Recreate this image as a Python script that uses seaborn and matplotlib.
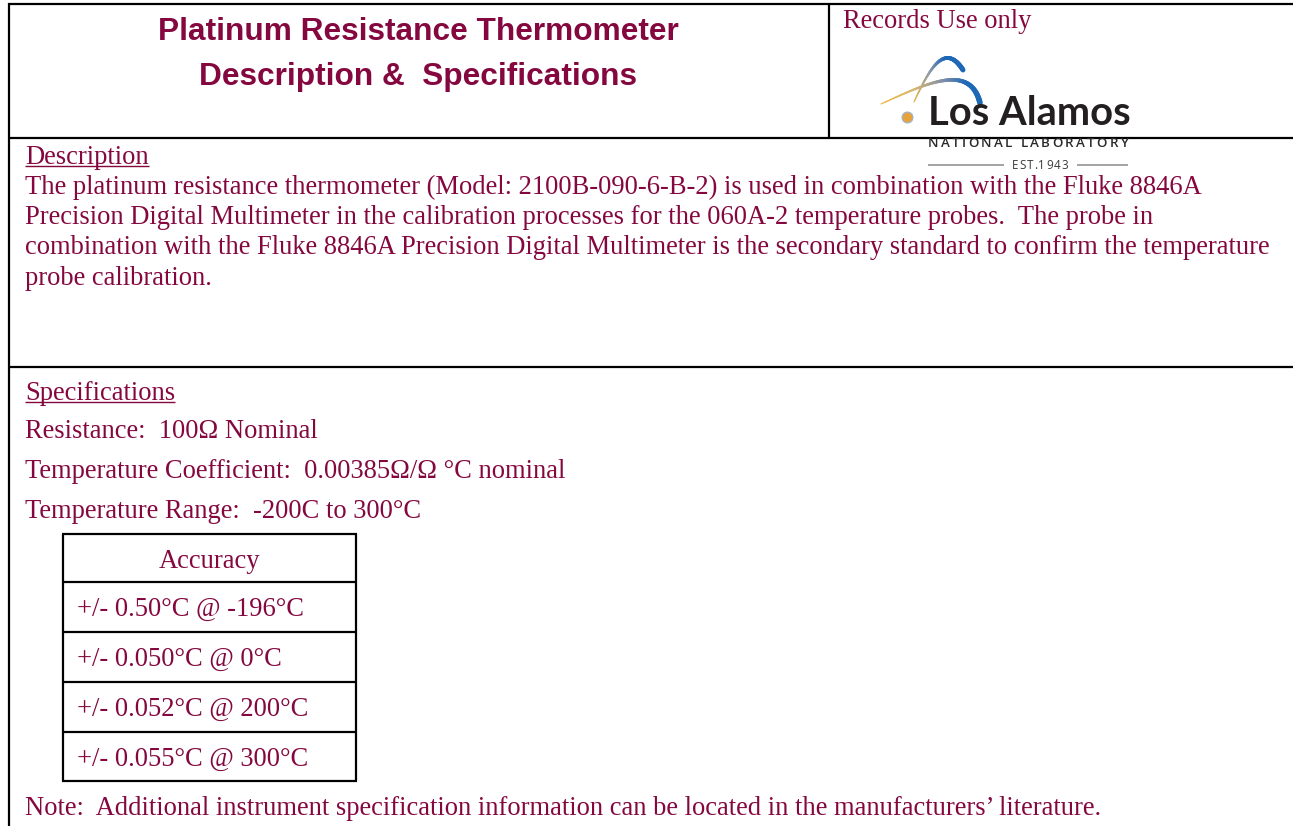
import numpy as np
import matplotlib
matplotlib.use("Agg")
import matplotlib.pyplot as plt
import seaborn as sns
from matplotlib.colors import to_rgb

sns.set_style("white")
plt.rcParams['font.family'] = ['Liberation Serif', 'DejaVu Serif']

# ---- content ----
title_lines = ["Platinum Resistance Thermometer", "Description &  Specifications"]
records_label = "Records Use only"
description_heading = "Description"
description_lines = [
    "The platinum resistance thermometer (Model: 2100B-090-6-B-2) is used in combination with the Fluke 8846A",
    "Precision Digital Multimeter in the calibration processes for the 060A-2 temperature probes.  The probe in",
    "combination with the Fluke 8846A Precision Digital Multimeter is the secondary standard to confirm the temperature",
    "probe calibration.",
]
spec_heading = "Specifications"
spec_lines = [
    "Resistance:  100\u03a9 Nominal",
    "Temperature Coefficient:  0.00385\u03a9/\u03a9 \u00b0C nominal",
    "Temperature Range:  -200C to 300\u00b0C",
]
accuracy_header = "Accuracy"
accuracy_rows = [
    "+/- 0.50\u00b0C @ -196\u00b0C",
    "+/- 0.050\u00b0C @ 0\u00b0C",
    "+/- 0.052\u00b0C @ 200\u00b0C",
    "+/- 0.055\u00b0C @ 300\u00b0C",
]
note_line = "Note:  Additional instrument specification information can be located in the manufacturers\u2019 literature."
logo_name = "Los Alamos"
logo_sub = "NATIONAL LABORATORY"
logo_est = "EST.1943"

# ---- style ----
MAROON = "#84083F"
BODY_FS = 19.1
W, H = 1293, 826

fig = plt.figure(figsize=(W / 100, H / 100), dpi=100)
ax = fig.add_axes([0, 0, 1, 1])
ax.set_xlim(0, W)
ax.set_ylim(H, 0)
ax.axis("off")

LW = 1.6
def hline(y, x0, x1, lw=LW, color="black", z=2):
    ax.plot([x0, x1], [y, y], color=color, lw=lw, solid_capstyle="butt", zorder=z)
def vline(x, y0, y1, lw=LW, color="black", z=2):
    ax.plot([x, x], [y0, y1], color=color, lw=lw, solid_capstyle="butt", zorder=z)

# frame
LX = 9
hline(4, LX - 1, W)
hline(138, LX - 1, W)
hline(367, LX - 1, W)
vline(LX, 3, H)
vline(829, 3, 138)

# title
for i, t in enumerate(title_lines):
    ax.text(418, 40 + i * 45, t, fontsize=22.8, fontweight="bold",
            family=["Liberation Sans", "DejaVu Sans"], color=MAROON,
            ha="center", va="baseline")

ax.text(843, 28, records_label, fontsize=BODY_FS, color=MAROON, ha="left", va="baseline")

# description
heads = []
heads.append(ax.text(25, 164, description_heading, fontsize=BODY_FS, color=MAROON, va="baseline"))
for i, t in enumerate(description_lines):
    ax.text(25, 194 + i * 30.2, t, fontsize=BODY_FS, color=MAROON, va="baseline")

# specifications
heads.append(ax.text(25, 400, spec_heading, fontsize=BODY_FS, color=MAROON, va="baseline"))
for i, t in enumerate(spec_lines):
    ax.text(25, 438 + i * 40, t, fontsize=BODY_FS, color=MAROON, va="baseline")

# accuracy table
tx0, tx1 = 63, 356
row_edges = [534, 582, 632, 682, 732, 781]
for y in row_edges:
    hline(y, tx0 - 1, tx1 + 1)
vline(tx0, row_edges[0], row_edges[-1])
vline(tx1, row_edges[0], row_edges[-1])
ax.text((tx0 + tx1) / 2, 568, accuracy_header, fontsize=BODY_FS, color=MAROON,
        ha="center", va="baseline")
for i, t in enumerate(accuracy_rows):
    ax.text(77, 616 + i * 50, t, fontsize=BODY_FS, color=MAROON, va="baseline")

ax.text(25, 815, note_line, fontsize=BODY_FS, color=MAROON, va="baseline")

# underline headings
fig.canvas.draw()
r = fig.canvas.get_renderer()
inv = ax.transData.inverted()
for t in heads:
    bb = t.get_window_extent(r)
    (x0, _), (x1, _) = inv.transform([[bb.x0, bb.y0], [bb.x1, bb.y1]])
    y = t.get_position()[1] + 2
    hline(y, x0, x1, lw=1.0, color=MAROON)

# ---- logo ----
def bez(p0, p1, p2, p3, n=90):
    t = np.linspace(0, 1, n)[:, None]
    p0, p1, p2, p3 = map(np.array, (p0, p1, p2, p3))
    return ((1 - t) ** 3) * p0 + 3 * ((1 - t) ** 2) * t * p1 + 3 * (1 - t) * t ** 2 * p2 + t ** 3 * p3

def grad_stroke(pts, stops, w0, w1):
    cols = [np.array(to_rgb(c)) for c in stops]
    n = len(pts) - 1
    for k in range(n):
        f = k / n
        seg = min(int(f * (len(cols) - 1)), len(cols) - 2)
        g = f * (len(cols) - 1) - seg
        col = cols[seg] * (1 - g) + cols[seg + 1] * g
        ax.plot(pts[k:k + 2, 0], pts[k:k + 2, 1], color=col, lw=w0 + (w1 - w0) * f,
                solid_capstyle="round", zorder=5)

BLUE = "#1E68B8"
a = bez((914, 102), (928, 72), (944, 40), (963, 70))
grad_stroke(a, ["#E8B040", "#9AA0A8", BLUE, BLUE], 0.8, 3.6)
b = bez((881, 104), (925, 84), (970, 62), (980, 103))
grad_stroke(b, ["#F2B540", "#D8B870", "#8090A8", BLUE, BLUE], 0.8, 4.0)
ax.scatter([907], [117], s=60, color="#E8A23A", edgecolor="#9DB2CC", linewidth=0.9, zorder=6)

lt = ax.text(928, 125, logo_name, fontsize=30, fontweight="bold",
             family=["Lato", "Open Sans", "DejaVu Sans"], color="#231F20", va="baseline", ha="left",
             zorder=6)
fig.canvas.draw()
bb = lt.get_window_extent(r)
lt.set_fontsize(30 * 202 / bb.width)


def tracked_text(s, x0, x1, y, fs, color, weight="normal"):
    """Place a string letter by letter so it spans x0..x1 with even tracking."""
    objs = []
    widths = []
    for ch in s:
        t = ax.text(0, y, ch, fontsize=fs, fontweight=weight,
                    family=["Open Sans", "DejaVu Sans"], color=color,
                    ha="left", va="baseline", zorder=6)
        objs.append(t)
    fig.canvas.draw()
    for t, ch in zip(objs, s):
        if ch == " ":
            widths.append(fs * 100 / 72 * 0.26)
        else:
            widths.append(t.get_window_extent(r).width)
    track = (x1 - x0 - sum(widths)) / (len(s) - 1)
    x = x0
    for t, w in zip(objs, widths):
        t.set_x(x)
        x += w + track


tracked_text(logo_sub, 928, 1128, 147, 9.6, "#2a2a2a", weight="semibold")
tracked_text(logo_est, 1012, 1068, 169, 8.4, "#3a3a3a")
hline(165, 928, 1004, lw=1.1, color="#8a8a8a", z=6)
hline(165, 1077, 1128, lw=1.1, color="#8a8a8a", z=6)

fig.savefig("out.png", dpi=100)
